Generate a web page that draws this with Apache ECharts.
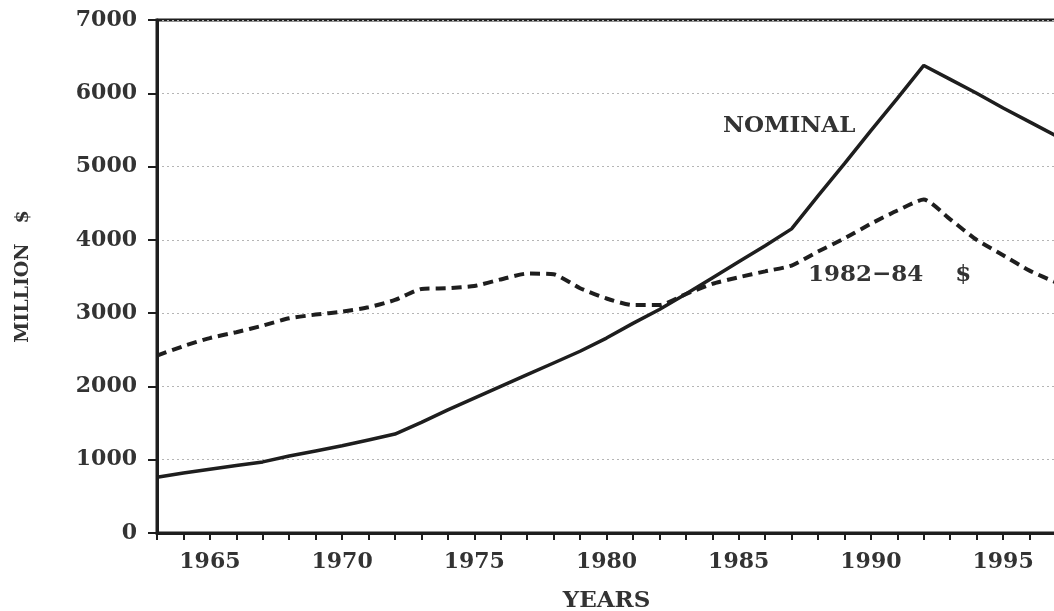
<!DOCTYPE html>
<html>
<head>
<meta charset="utf-8">
<script src="https://cdn.jsdelivr.net/npm/echarts@6/dist/echarts.min.js"></script>
<style>
  html, body { margin: 0; padding: 0; background: #fff; }
  #box { width: 1054px; height: 611px; }
</style>
</head>
<body>
<div id="box"></div>
<script>
// 数据
var years = [];
for (var y = 1963; y <= 1997; y++) years.push(y);

var nominal = [760, 820, 870, 920, 970, 1050, 1120, 1190, 1270, 1350,
    1510, 1680, 1840, 2000, 2160, 2320, 2480, 2660, 2860, 3050,
    3260, 3480, 3700, 3920, 4150, 4600, 5040, 5490, 5930, 6380,
    6190, 6000, 5800, 5610, 5420];

var real8284 = [2420, 2550, 2660, 2740, 2830, 2930, 2980, 3020, 3080, 3180,
    3330, 3340, 3370, 3460, 3540, 3530, 3340, 3200, 3110, 3110,
    3260, 3400, 3490, 3570, 3650, 3840, 4020, 4220, 4400, 4550,
    4280, 4000, 3790, 3580, 3420];

var yTicks = [0, 1000, 2000, 3000, 4000, 5000, 6000, 7000];

var font = 'DejaVu Serif';
var ink = '#1e1e1e';

var myChart = echarts.init(document.getElementById('box'));

function pairs(vals) {
    return years.map(function (yr, i) { return [yr, vals[i]]; });
}

var option = {
    backgroundColor: '#ffffff',
    animation: false,
    grid: {
        left: 157,
        right: -2,
        top: 20,
        bottom: 78,
        outerBoundsMode: 'none',
        containLabel: false,
        show: true,
        borderColor: ink,
        borderWidth: 3
    },
    xAxis: {
        type: 'value',
        min: 1963,
        max: 1997,
        interval: 1,
        name: 'YEARS',
        nameLocation: 'middle',
        nameGap: 57,
        nameTextStyle: { fontFamily: font, fontSize: 23, fontWeight: 'bold', color: '#333' },
        axisLine: { show: true, lineStyle: { color: ink, width: 3 } },
        axisTick: { show: true, length: 7, lineStyle: { color: ink, width: 2 } },
        axisLabel: {
            margin: 18,
            fontFamily: font,
            fontSize: 22,
            fontWeight: 'bold',
            color: '#333',
            formatter: function (v) { return v % 5 === 0 ? String(v) : ''; }
        },
        splitLine: { show: false }
    },
    yAxis: {
        type: 'value',
        min: 0,
        max: 7000,
        interval: 1000,
        name: 'MILLION   $',
        nameLocation: 'middle',
        nameGap: 124,
        nameRotate: 90,
        nameTextStyle: { fontFamily: font, fontSize: 19, fontWeight: 'bold', color: '#333' },
        axisLine: { show: true, lineStyle: { color: ink, width: 3 } },
        axisTick: { show: true, length: 9, lineStyle: { color: ink, width: 2 } },
        axisLabel: {
            margin: 20,
            fontFamily: font,
            fontSize: 22,
            fontWeight: 'bold',
            color: '#333',
            formatter: function (v) { return yTicks.indexOf(v) >= 0 ? String(v) : ''; }
        },
        splitLine: { show: true, lineStyle: { color: '#b5b5b5', width: 1, type: [2, 3] } }
    },
    graphic: [
        {
            type: 'text', left: 723, top: 115,
            style: { text: 'NOMINAL', font: 'bold 23px "DejaVu Serif"', fill: '#333' }
        },
        {
            type: 'text', left: 808, top: 264,
            style: { text: '1982\u221284    $', font: 'bold 23px "DejaVu Serif"', fill: '#333' }
        }
    ],
    series: [
        {
            name: 'NOMINAL',
            type: 'line',
            data: pairs(nominal),
            showSymbol: false,
            clip: true,
            lineStyle: { color: ink, width: 3.5 }
        },
        {
            name: '1982-84 $',
            type: 'line',
            data: pairs(real8284),
            showSymbol: false,
            smooth: 0.2,
            clip: true,
            lineStyle: { color: ink, width: 4, type: [10, 6] }
        }
    ]
};

myChart.setOption(option);
</script>
</body>
</html>
